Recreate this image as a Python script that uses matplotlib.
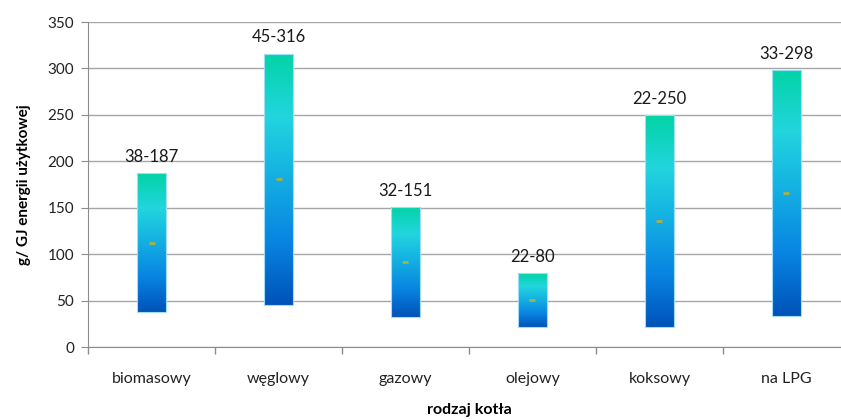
#!/usr/bin/env python3
import matplotlib
matplotlib.use("Agg")
import matplotlib.pyplot as plt
from matplotlib.colors import LinearSegmentedColormap
import numpy as np

categories = ["biomasowy", "węglowy", "gazowy", "olejowy", "koksowy", "na LPG"]
low = [38, 45, 32, 22, 22, 33]
high = [187, 316, 151, 80, 250, 298]
labels = ["38-187", "45-316", "32-151", "22-80", "22-250", "33-298"]

plt.rcParams['font.family'] = ['Lato', 'DejaVu Sans']

# gradient used inside every bar (bottom -> top)
cmap = LinearSegmentedColormap.from_list(
    "bargrad",
    [(0.0, "#0052b8"), (0.25, "#0884e2"), (0.55, "#16b6e2"),
     (0.75, "#22d5de"), (1.0, "#02d3a6")])

fig = plt.figure(figsize=(8.41, 4.19), dpi=100)
ax = fig.add_axes([88 / 841, 72 / 419, 762 / 841, 325 / 419])

x = np.arange(len(categories))
bar_width = 0.23
grad = np.linspace(0, 1, 256).reshape(-1, 1)

for i in range(len(categories)):
    bar = ax.bar(x[i], high[i] - low[i], bottom=low[i], width=bar_width,
                 color='none', edgecolor='#9fdcf5', linewidth=0.8, zorder=3)[0]
    img = ax.imshow(grad, cmap=cmap, origin='lower', aspect='auto',
                    extent=[x[i] - bar_width / 2, x[i] + bar_width / 2, low[i], high[i]],
                    zorder=2)
    img.set_clip_path(bar)
    # midpoint marker
    ax.plot(x[i], (low[i] + high[i]) / 2, marker='_', color='#a9b144',
            ms=4, mew=2, zorder=4)
    ax.annotate(labels[i], (x[i], high[i]), xytext=(0, 8), textcoords='offset points',
                ha='center', va='baseline', fontsize=12, color='#1a1a1a')

ax.set_xlim(-0.5, len(categories) - 0.5)
ax.set_ylim(0, 350)
ax.set_yticks(np.arange(0, 351, 50))
ax.set_xticks(x)
ax.set_xticklabels(categories, fontsize=11.5, color='#222222')
ax.set_xticks(np.arange(-0.5, len(categories), 1), minor=True)
ax.tick_params(axis='x', which='major', length=0, pad=18)
ax.tick_params(axis='x', which='minor', length=5, color='#8c8c8c', width=1)
ax.tick_params(axis='y', length=5, color='#8c8c8c', labelsize=11, labelcolor='#222222', pad=5)

ax.spines["top"].set_visible(False)
ax.spines["right"].set_visible(False)
ax.spines["left"].set_color('#8c8c8c')
ax.spines["bottom"].set_color('#8c8c8c')

ax.yaxis.grid(True, color='#a6a6a6', linewidth=1)
ax.xaxis.grid(False)
ax.set_axisbelow(True)

ax.set_ylabel('g/ GJ energii użytkowej', fontsize=11, fontweight='bold', labelpad=12)
ax.set_xlabel('rodzaj kotła', fontsize=11.5, fontweight='bold', labelpad=12)

fig.savefig("out.png", dpi=100)
